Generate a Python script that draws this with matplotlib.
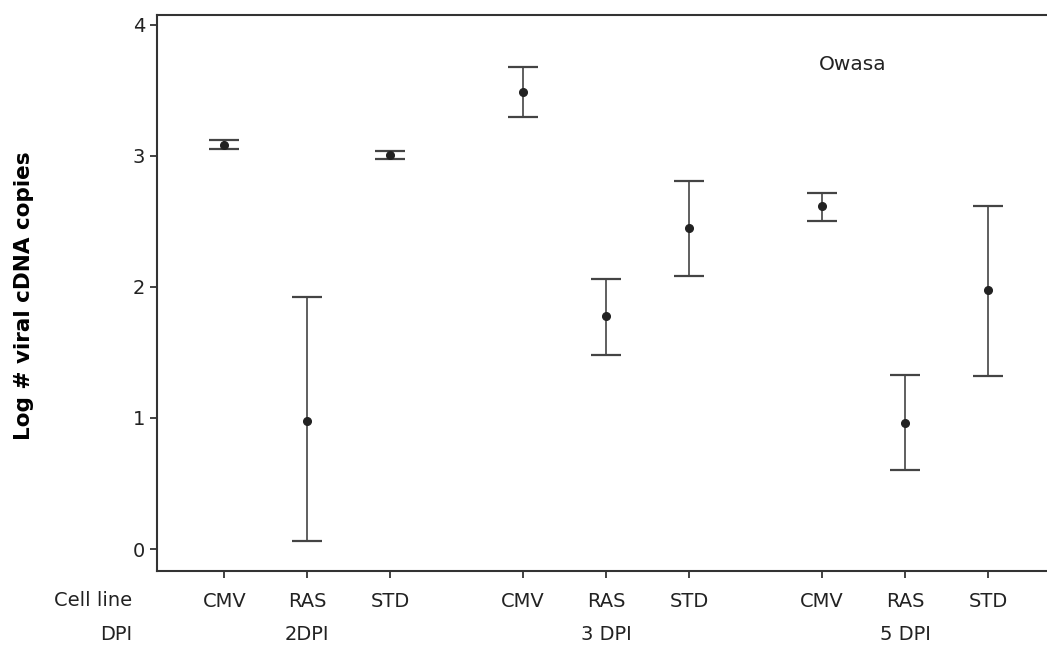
import numpy as np
import matplotlib.pyplot as plt
import matplotlib.transforms as mtransforms

# Log # viral cDNA copies, Owasa
cell_lines = ['CMV', 'RAS', 'STD', 'CMV', 'RAS', 'STD', 'CMV', 'RAS', 'STD']
dpi_groups = ['2DPI', '3 DPI', '5 DPI']
x_pos = [0, 1, 2, 3.6, 4.6, 5.6, 7.2, 8.2, 9.2]
means = [3.08, 0.98, 3.01, 3.49, 1.78, 2.45, 2.62, 0.96, 1.98]
upper = [3.12, 1.92, 3.04, 3.68, 2.06, 2.81, 2.72, 1.33, 2.62]
lower = [3.05, 0.06, 2.98, 3.30, 1.48, 2.08, 2.50, 0.60, 1.32]

means = np.array(means)
err = [means - np.array(lower), np.array(upper) - means]

fig = plt.figure(figsize=(10.47, 6.5), dpi=100)
ax = fig.add_axes([0.15, 0.1215, 0.85, 0.8555])

ax.errorbar(x_pos, means, yerr=err, fmt='o', color='#222222', ecolor='#444444',
            elinewidth=1.2, capsize=11, capthick=1.6, markersize=5.5)

ax.set_xlim(-0.81, 9.91)
ax.set_ylim(-0.168, 4.076)
ax.set_yticks([0, 1, 2, 3, 4])
ax.set_xticks(x_pos)
ax.set_xticklabels(cell_lines)
ax.tick_params(axis='both', labelsize=14, colors='#222222', length=5, width=1.2)
ax.tick_params(axis='x', pad=10)

for side in ['left', 'bottom', 'top']:
    ax.spines[side].set_linewidth(1.5)
    ax.spines[side].set_color('#333333')
ax.spines['right'].set_visible(False)

ax.set_ylabel('Log # viral cDNA copies', fontsize=15.5, fontweight='bold')
ax.yaxis.set_label_coords(-0.138, 0.495)

# row labels and DPI groups below the axis
trans = mtransforms.blended_transform_factory(ax.transData, fig.transFigure)
fig.text(132 / 1047, 1 - 601 / 650, 'Cell line', fontsize=14, ha='right', va='center',
         color='#222222')
fig.text(132 / 1047, 1 - 634 / 650, 'DPI', fontsize=14, ha='right', va='center',
         color='#222222')
for i, g in enumerate(dpi_groups):
    ax.text(x_pos[3 * i + 1], 1 - 634 / 650, g, transform=trans, fontsize=14,
            ha='center', va='center', color='#222222')

ax.text(7.57, 3.70, 'Owasa', fontsize=14.5, ha='center', va='center', color='#222222')

plt.savefig('out.png', dpi=100)
